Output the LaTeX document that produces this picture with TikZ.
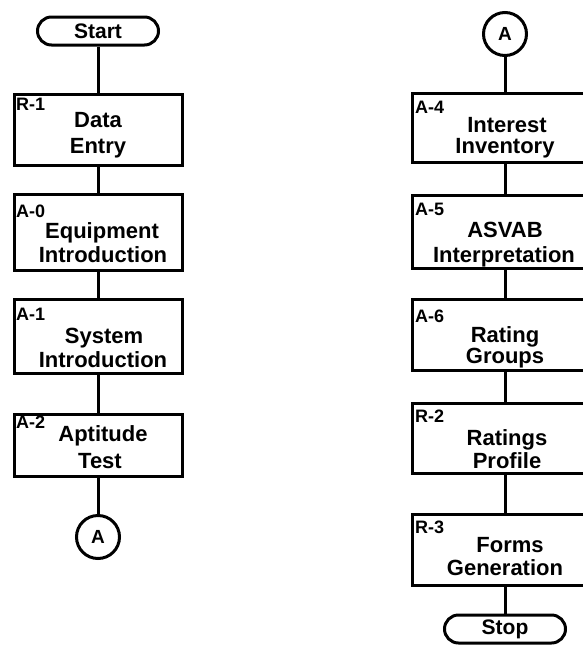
\documentclass[tikz,border=0pt]{standalone}
\usepackage{fontspec}
\setmainfont{Liberation Sans}
\begin{document}
\begin{tikzpicture}[x=1pt,y=-1pt,
  box/.style={draw, line width=3pt, rectangle, inner sep=0pt},
  term/.style={draw, line width=3pt, rounded corners=14pt, inner sep=0pt, minimum width=121pt, minimum height=28pt, font=\fontsize{21}{24}\selectfont\bfseries},
  conn/.style={draw, line width=3pt, circle, inner sep=0pt, minimum size=43pt, font=\fontsize{19}{20}\selectfont\bfseries},
  main/.style={anchor=base, font=\fontsize{22}{24}\selectfont\bfseries, inner sep=0pt},
  lab/.style={anchor=base west, font=\fontsize{18}{20}\selectfont\bfseries, inner sep=0pt},
  link/.style={line width=3pt}]
\useasboundingbox (0,0) rectangle (583,649);
\clip (0,0) rectangle (583,649);
\fill[white] (0,0) rectangle (583,649);

% ---------- left column ----------
\node[term] (start) at (98,31) {Start};
\node[box, minimum width=168pt, minimum height=71pt] (r1) at (98,130) {};
\node[box, minimum width=168pt, minimum height=76pt] (a0) at (98,232.5) {};
\node[box, minimum width=168pt, minimum height=74pt] (a1) at (98,336.5) {};
\node[box, minimum width=168pt, minimum height=62pt] (a2) at (98,445.5) {};
\node[conn] (ca) at (98,537) {A};

\draw[link] (start.south) -- (r1.north);
\draw[link] (r1.south) -- (a0.north);
\draw[link] (a0.south) -- (a1.north);
\draw[link] (a1.south) -- (a2.north);
\draw[link] (a2.south) -- (ca.north);

\node[lab] (r1l) at (16,110) {R-1};
\node[main] (r1a) at (98,127) {Data};
\node[main] (r1b) at (98,153) {Entry};

\node[lab] (a0l) at (16,217) {A-0};
\node[main] (a0a) at (102,238) {Equipment};
\node[main] (a0b) at (103,262) {Introduction};

\node[lab] (a1l) at (16,320) {A-1};
\node[main] (a1a) at (104,343) {System};
\node[main] (a1b) at (103,367) {Introduction};

\node[lab] (a2l) at (16,428) {A-2};
\node[main] (a2a) at (103,441) {Aptitude};
\node[main] (a2b) at (100,468) {Test};

% ---------- right column ----------
\node[conn] (cb) at (505,34) {A};
\node[box, minimum width=185pt, minimum height=69pt] (a4) at (505,128) {};
\node[box, minimum width=185pt, minimum height=73pt] (a5) at (505,232) {};
\node[box, minimum width=185pt, minimum height=71pt] (a6) at (505,335) {};
\node[box, minimum width=185pt, minimum height=70pt] (r2) at (505,438.5) {};
\node[box, minimum width=185pt, minimum height=71pt] (r3) at (505,550) {};
\node[term] (stop) at (505,629) {Stop};

\draw[link] (cb.south) -- (a4.north);
\draw[link] (a4.south) -- (a5.north);
\draw[link] (a5.south) -- (a6.north);
\draw[link] (a6.south) -- (r2.north);
\draw[link] (r2.south) -- (r3.north);
\draw[link] (r3.south) -- (stop.north);

\node[lab] (a4l) at (415,113) {A-4};
\node[main] (a4a) at (507,132) {Interest};
\node[main] (a4b) at (505,153) {Inventory};

\node[lab] (a5l) at (415,215) {A-5};
\node[main] (a5a) at (505,237) {ASVAB};
\node[main] (a5b) at (504,262) {Interpretation};

\node[lab] (a6l) at (415,322) {A-6};
\node[main] (a6a) at (505,342) {Rating};
\node[main] (a6b) at (505,363) {Groups};

\node[lab] (r2l) at (415,422) {R-2};
\node[main] (r2a) at (507,445) {Ratings};
\node[main] (r2b) at (507,468) {Profile};

\node[lab] (r3l) at (415,533) {R-3};
\node[main] (r3a) at (510,552) {Forms};
\node[main] (r3b) at (505,575) {Generation};
\end{tikzpicture}
\end{document}
